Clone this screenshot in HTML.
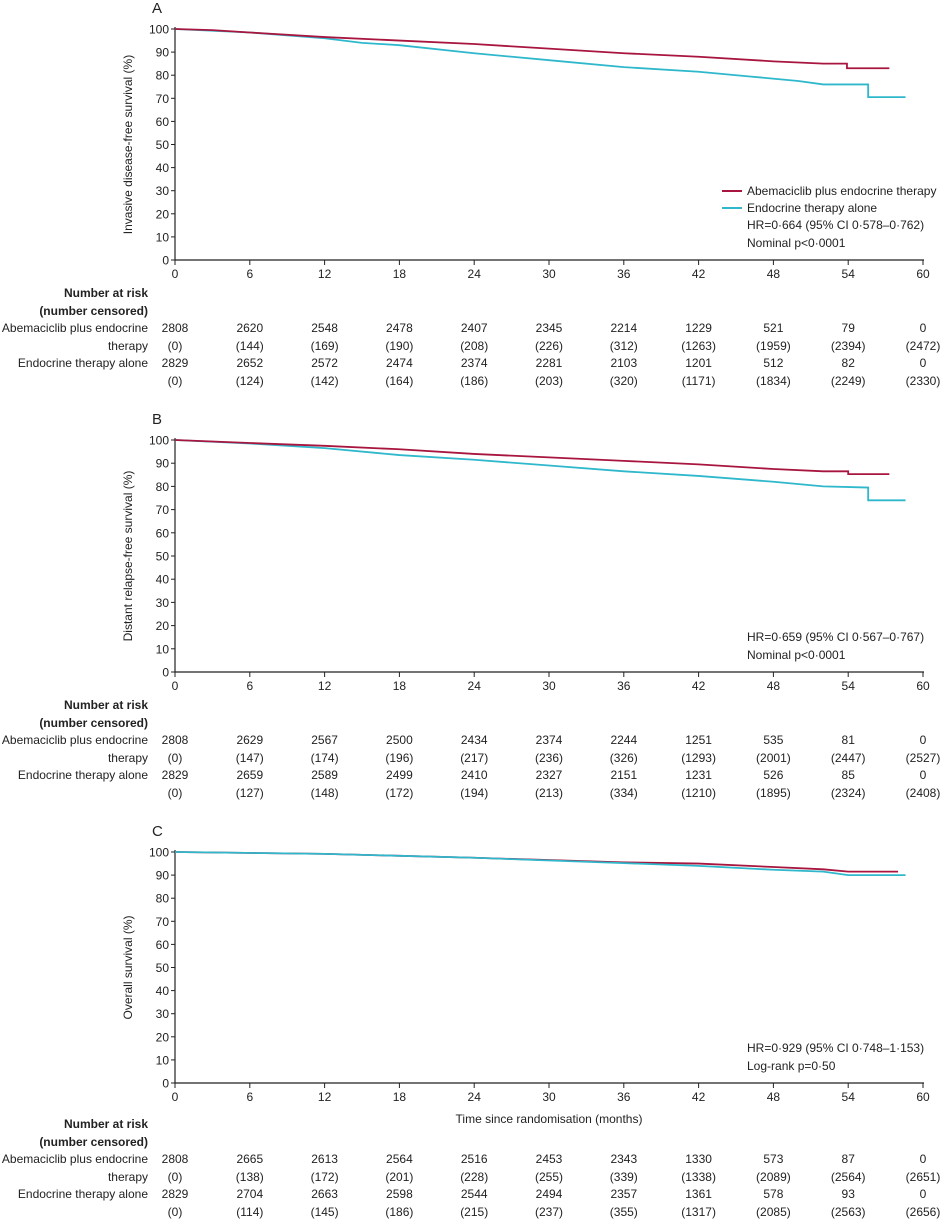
<!DOCTYPE html>
<html><head><meta charset="utf-8"><style>
body{margin:0;background:#fff;}
svg{display:block;font-family:"Liberation Sans",sans-serif;}
</style></head><body>
<svg id="c" width="941" height="1222"></svg>
<script>
const months=[0,6,12,18,24,30,36,42,48,54,60];
const yTicks=[0,10,20,30,40,50,60,70,80,90,100];
// Panel A
const aT1=[0,3,6,12,18,24,30,36,42,48,52,53.9,53.9,57.3];
const aV1=[100,99.5,98.5,96.5,95,93.5,91.5,89.5,88,86,85,85,83,83];
const aT2=[0,6,12,15,18,24,30,36,42,46,50,52,55.6,55.6,58.6];
const aV2=[100,98.5,96,94,93,89.5,86.5,83.5,81.5,79.5,77.5,76,76,70.5,70.5];
const aRisk1=["2808","2620","2548","2478","2407","2345","2214","1229","521","79","0"];
const aCens1=["(0)","(144)","(169)","(190)","(208)","(226)","(312)","(1263)","(1959)","(2394)","(2472)"];
const aRisk2=["2829","2652","2572","2474","2374","2281","2103","1201","512","82","0"];
const aCens2=["(0)","(124)","(142)","(164)","(186)","(203)","(320)","(1171)","(1834)","(2249)","(2330)"];
// Panel B
const bT1=[0,6,12,18,24,30,36,42,48,52,54,54,57.3];
const bV1=[100,98.7,97.5,96,94,92.5,91,89.5,87.5,86.5,86.5,85.3,85.3];
const bT2=[0,6,12,18,24,30,36,42,48,52,55.6,55.6,58.6];
const bV2=[100,98.5,96.5,93.5,91.5,89,86.5,84.5,82,80,79.5,74,74];
const bRisk1=["2808","2629","2567","2500","2434","2374","2244","1251","535","81","0"];
const bCens1=["(0)","(147)","(174)","(196)","(217)","(236)","(326)","(1293)","(2001)","(2447)","(2527)"];
const bRisk2=["2829","2659","2589","2499","2410","2327","2151","1231","526","85","0"];
const bCens2=["(0)","(127)","(148)","(172)","(194)","(213)","(334)","(1210)","(1895)","(2324)","(2408)"];
// Panel C
const cT1=[0,12,24,36,42,48,52,54,58];
const cV1=[100,99.2,97.5,95.5,95,93.5,92.5,91.5,91.5];
const cT2=[0,12,24,36,42,48,52,54,58.6];
const cV2=[100,99.2,97.5,95.2,94,92.3,91.5,90,90];
const cRisk1=["2808","2665","2613","2564","2516","2453","2343","1330","573","87","0"];
const cCens1=["(0)","(138)","(172)","(201)","(228)","(255)","(339)","(1338)","(2089)","(2564)","(2651)"];
const cRisk2=["2829","2704","2663","2598","2544","2494","2357","1361","578","93","0"];
const cCens2=["(0)","(114)","(145)","(186)","(215)","(237)","(355)","(1317)","(2085)","(2563)","(2656)"];

const NS="http://www.w3.org/2000/svg";
const svg=document.getElementById('c');
function el(t,a,p){const e=document.createElementNS(NS,t);for(const k in a)e.setAttribute(k,a[k]);(p||svg).appendChild(e);return e;}
function txt(x,y,s,anchor,p,extra){const e=el('text',Object.assign({x:x,y:y,'font-size':12,fill:'#222','text-anchor':anchor||'start'},extra||{}),p);e.textContent=s;return e;}
const X0=175,X1=923;
const xs=m=>X0+(m/60)*(X1-X0);
const RED="#a8163f",CYAN="#2fb8cc";

function panel(name,letter,top,bot,ytitle,series,hr,legend,xtitle,table){
  const g=el('g',{});
  
  
  const ys=v=>bot-(v/100)*(bot-top);
  const L=txt(152,top-16,letter,'start',g,{'font-size':15});
  
  const ax=el('path',{d:`M${X0},${top-2}V${bot}H${X1+1}`,stroke:'#222',fill:'none','stroke-width':1.2},g);
  
  yTicks.forEach(v=>{el('line',{x1:X0-4,x2:X0,y1:ys(v),y2:ys(v),stroke:'#222'},g);
    const t=txt(X0-6,ys(v)+4.5,String(v),'end',g);});
  months.forEach(m=>{el('line',{x1:xs(m),x2:xs(m),y1:bot,y2:bot+5,stroke:'#222'},g);
    const t=txt(xs(m),bot+18,String(m),'middle',g);});
  const yt=txt(0,0,ytitle,'middle',g,{transform:`translate(132,${(top+bot)/2}) rotate(-90)`});
  
  if(xtitle){const t=txt(xs(30),bot+40,xtitle,'middle',g);}
  series.forEach(s=>{
    let d=`M${xs(s.t[0])},${ys(s.v[0])}`;
    for(let i=1;i<s.t.length;i++){d+=`L${xs(s.t[i])},${ys(s.v[i])}`;}
    const p=el('path',{d:d,stroke:s.c,fill:'none','stroke-width':1.8},g);
    
  });
  if(legend){
    const lg=el('g',{},g);
    el('line',{x1:722,x2:742,y1:191,y2:191,stroke:RED,'stroke-width':2},lg);
    txt(747,195,'Abemaciclib plus endocrine therapy','start',lg);
    el('line',{x1:722,x2:742,y1:208,y2:208,stroke:CYAN,'stroke-width':2},lg);
    txt(747,212,'Endocrine therapy alone','start',lg);
  }
  const h1=txt(747,bot-31,hr[0],'start',g);
  const h2=txt(747,bot-13,hr[1],'start',g);
  const ty=table.y;
  const tb=el('g',{},g);
  txt(148,ty,'Number at risk','end',tb,{'font-weight':'bold'});
  txt(148,ty+18,'(number censored)','end',tb,{'font-weight':'bold'});
  txt(148,ty+35,'Abemaciclib plus endocrine','end',tb);
  txt(148,ty+53,'therapy','end',tb);
  txt(148,ty+70,'Endocrine therapy alone','end',tb);
  const rows=[table.r1,table.c1,table.r2,table.c2];
  rows.forEach((r,ri)=>r.forEach((s,i)=>txt(xs(months[i]),ty+35+[0,18,35,53][ri],s,'middle',tb)));
}
panel('panel-a-idfs','A',29,260,'Invasive disease-free survival (%)',
 [{t:aT2,v:aV2,c:CYAN,n:'et-alone-curve'},{t:aT1,v:aV1,c:RED,n:'abemaciclib-curve'}],
 ['HR=0·664 (95% CI 0·578–0·762)','Nominal p<0·0001'],true,null,
 {y:297,r1:aRisk1,c1:aCens1,r2:aRisk2,c2:aCens2});
panel('panel-b-drfs','B',440,672,'Distant relapse-free survival (%)',
 [{t:bT2,v:bV2,c:CYAN,n:'et-alone-curve'},{t:bT1,v:bV1,c:RED,n:'abemaciclib-curve'}],
 ['HR=0·659 (95% CI 0·567–0·767)','Nominal p<0·0001'],false,null,
 {y:709,r1:bRisk1,c1:bCens1,r2:bRisk2,c2:bCens2});
panel('panel-c-os','C',852,1083,'Overall survival (%)',
 [{t:cT1,v:cV1,c:RED,n:'abemaciclib-curve'},{t:cT2,v:cV2,c:CYAN,n:'et-alone-curve'}],
 ['HR=0·929 (95% CI 0·748–1·153)','Log-rank p=0·50'],false,'Time since randomisation (months)',
 {y:1128,r1:cRisk1,c1:cCens1,r2:cRisk2,c2:cCens2});
</script>
</body></html>
